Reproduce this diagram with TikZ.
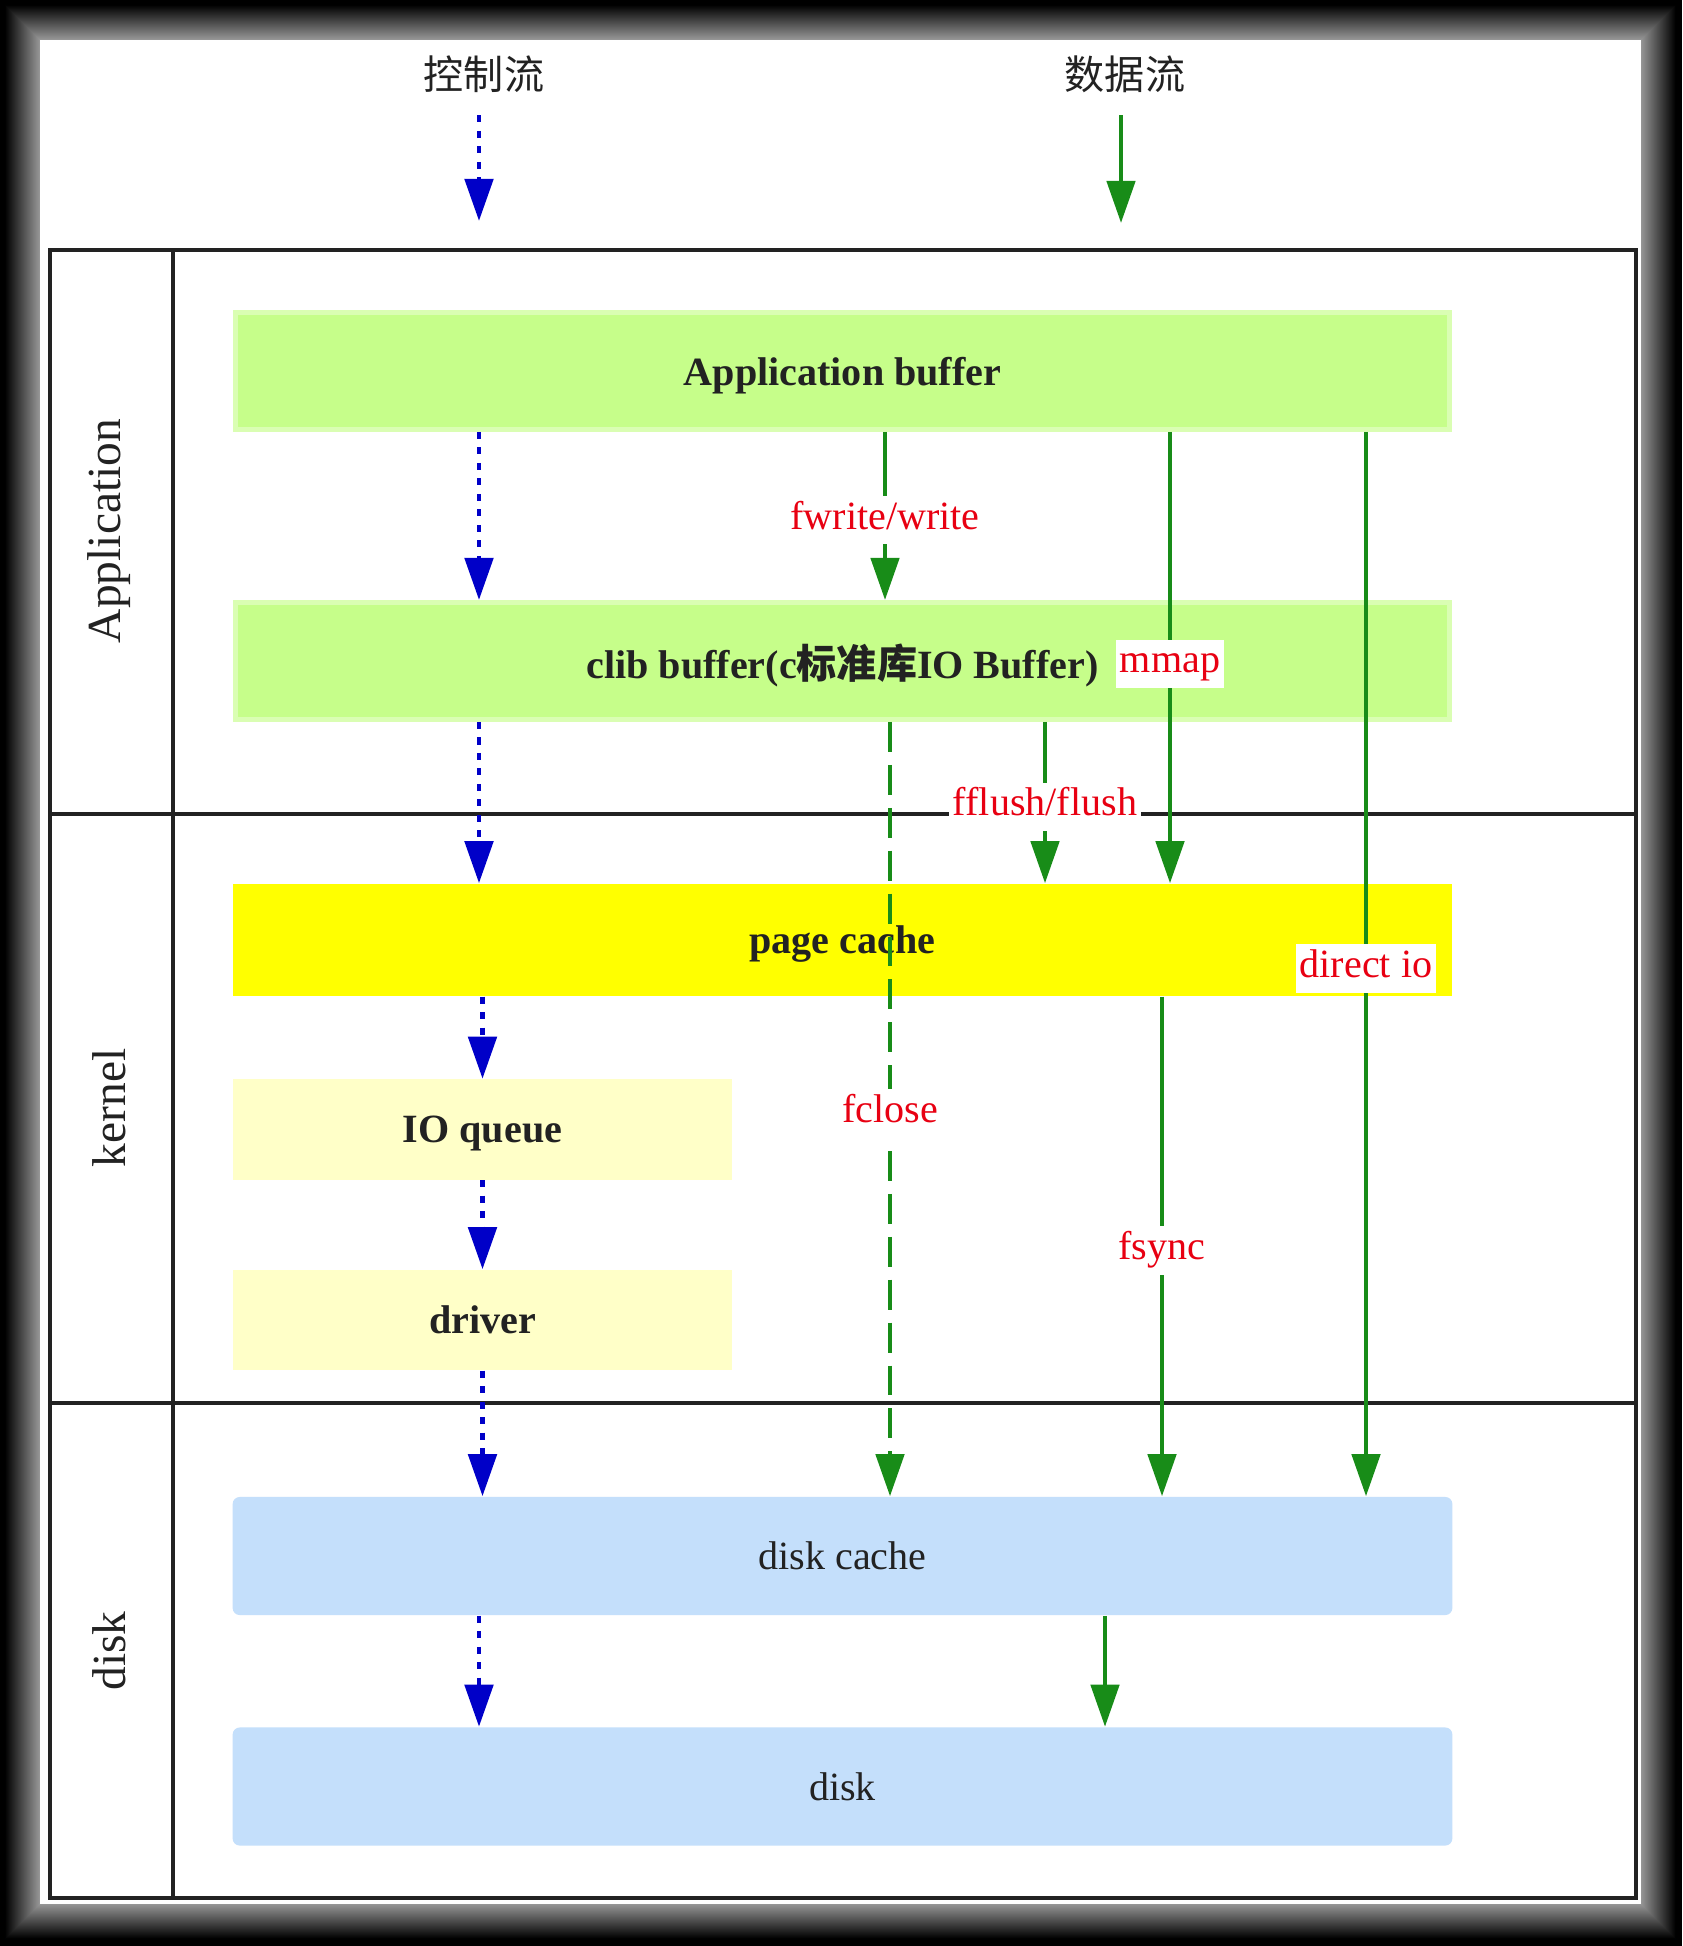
\documentclass[tikz,border=0pt]{standalone}
\usepackage{fontspec}
\setmainfont{Liberation Serif}
\newfontfamily\cjk{Noto Sans CJK SC}
\usetikzlibrary{arrows.meta, positioning, calc}

\definecolor{appgreen}{RGB}{198,254,138}
\definecolor{pageyellow}{RGB}{255,255,0}
\definecolor{ioyellow}{RGB}{255,255,200}
\definecolor{diskblue}{RGB}{196,223,251}
\definecolor{ctrlblue}{RGB}{0,0,200}
\definecolor{datagreen}{RGB}{24,140,24}
\definecolor{callred}{RGB}{232,0,18}
\definecolor{inkgray}{RGB}{34,34,34}

\begin{document}
\begin{tikzpicture}[x=0.01cm, y=-0.01cm,
    layer/.style={rectangle, inner sep=0pt, text depth=0pt, text=inkgray, font=\fontsize{11.4}{13.7}\selectfont\bfseries},
    greenbox/.style={layer, fill=appgreen, draw=appgreen!65!white, line width=1.4pt, minimum width=12.14cm, minimum height=1.17cm},
    pagebox/.style={layer, fill=pageyellow, minimum width=12.19cm, minimum height=1.12cm},
    queuebox/.style={layer, fill=ioyellow, minimum width=4.99cm, minimum height=1cm},
    diskbox/.style={layer, fill=diskblue, rounded corners=2pt, minimum width=12.19cm, minimum height=1.18cm, font=\fontsize{11.4}{13.7}\selectfont},
    ctrl/.style={draw=ctrlblue, line width=1.4pt, dash pattern=on 2pt off 2.4pt, -{Triangle[length=12pt, width=8pt]}},
    data/.style={draw=datagreen, line width=1.3pt, -{Triangle[length=12pt, width=8pt]}},
    call/.style={fill=white, text=callred, font=\fontsize{11.4}{13.7}\selectfont, text height=0.7em, text depth=0.2em, inner xsep=1pt, inner ysep=2.4pt, yshift=-1.2pt},
    head/.style={text=inkgray, font=\cjk\fontsize{11.4}{13.7}\selectfont},
    rowname/.style={rotate=90, text=inkgray, font=\fontsize{13.5}{16}\selectfont},
    frame/.style={draw=inkgray, line width=1.4pt}]
\useasboundingbox (0,0) rectangle (1682,1946);

% Dark backdrop with a soft glow round the sheet
\fill[black] (0,0) rectangle (1682,1946);
\foreach \i in {40,39,...,1} {
    \pgfmathsetmacro{\shade}{min(100, 40 + 1.7*\i)}
    \fill[black!\shade] (40-\i,40-\i) rectangle (1641+\i,1904+\i);
}
\fill[white] (40,40) rectangle (1641,1904);

% Legend
\node[head] (hctrl) at (484,74) {控制流};
\node[head] (hdata) at (1125,74) {数据流};
\coordinate (hctrlend) at (479,221);
\coordinate (hdataend) at (1121,223);
\draw[ctrl, shorten <=3pt] (hctrl.south -| hctrlend) -- (hctrlend);
\draw[data, shorten <=3pt] (hdata.south -| hdataend) -- (hdataend);

% Table
\draw[frame] (50,250) rectangle (1636,1898);
\draw[frame] (173,250) -- (173,1898);
\draw[frame] (50,814) -- (1636,814);
\draw[frame] (50,1403) -- (1636,1403);

\node[rowname] (rapp) at (109,531) {Application};
\node[rowname] (rkernel) at (109,1108) {kernel};
\node[rowname] (rdisk) at (109,1651) {disk};

% Buffers
\node[greenbox] (appbuf) at (842.5,371) {Application buffer};
\node[greenbox] (clibbuf) at (842.5,661) {clib buffer(c{\cjk 标准库}IO Buffer)};
\node[pagebox] (pagecache) at (842.5,940) {page cache};
\node[queuebox] (ioqueue) at (482.5,1129.5) {IO queue};
\node[queuebox] (driver) at (482.5,1320) {driver};
\node[diskbox] (diskcache) at (842.5,1556) {disk cache};
\node[diskbox] (disk) at (842.5,1786.5) {disk};

% Columns of the flows
\foreach \n/\x in {xctrl/479, xwrite/885, xclose/890, xflush/1045, xmmap/1170, xsync/1162, xdirect/1366, xdisk/1105}
    \coordinate (\n) at (\x,0);

% Control flow
\draw[ctrl] (appbuf.south -| xctrl) -- (clibbuf.north -| xctrl);
\draw[ctrl] (clibbuf.south -| xctrl) -- (pagecache.north -| xctrl);
\draw[ctrl] (pagecache.south -| ioqueue) -- (ioqueue.north);
\draw[ctrl] (ioqueue.south) -- (driver.north);
\draw[ctrl] (driver.south) -- (diskcache.north -| driver);
\draw[ctrl] (diskcache.south -| xctrl) -- (disk.north -| xctrl);

% Data flow
\draw[data] (appbuf.south -| xwrite) -- node[call] (lwrite) {fwrite/write} (clibbuf.north -| xwrite);
\draw[data, dash pattern=on 8.5pt off 3.7pt] (clibbuf.south -| xclose) -- node[call] (lclose) {fclose} (diskcache.north -| xclose);
\draw[data] (clibbuf.south -| xflush) -- node[call] (lflush) {fflush/flush} (pagecache.north -| xflush);
\draw[data] (appbuf.south -| xmmap) -- node[call, pos=0.505] (lmmap) {mmap} (pagecache.north -| xmmap);
\draw[data] (pagecache.south -| xsync) -- node[call] (lsync) {fsync} (diskcache.north -| xsync);
\draw[data] (appbuf.south -| xdirect) -- node[call] (ldirect) {direct io} (diskcache.north -| xdirect);
\draw[data] (diskcache.south -| xdisk) -- (disk.north -| xdisk);
\end{tikzpicture}
\end{document}
